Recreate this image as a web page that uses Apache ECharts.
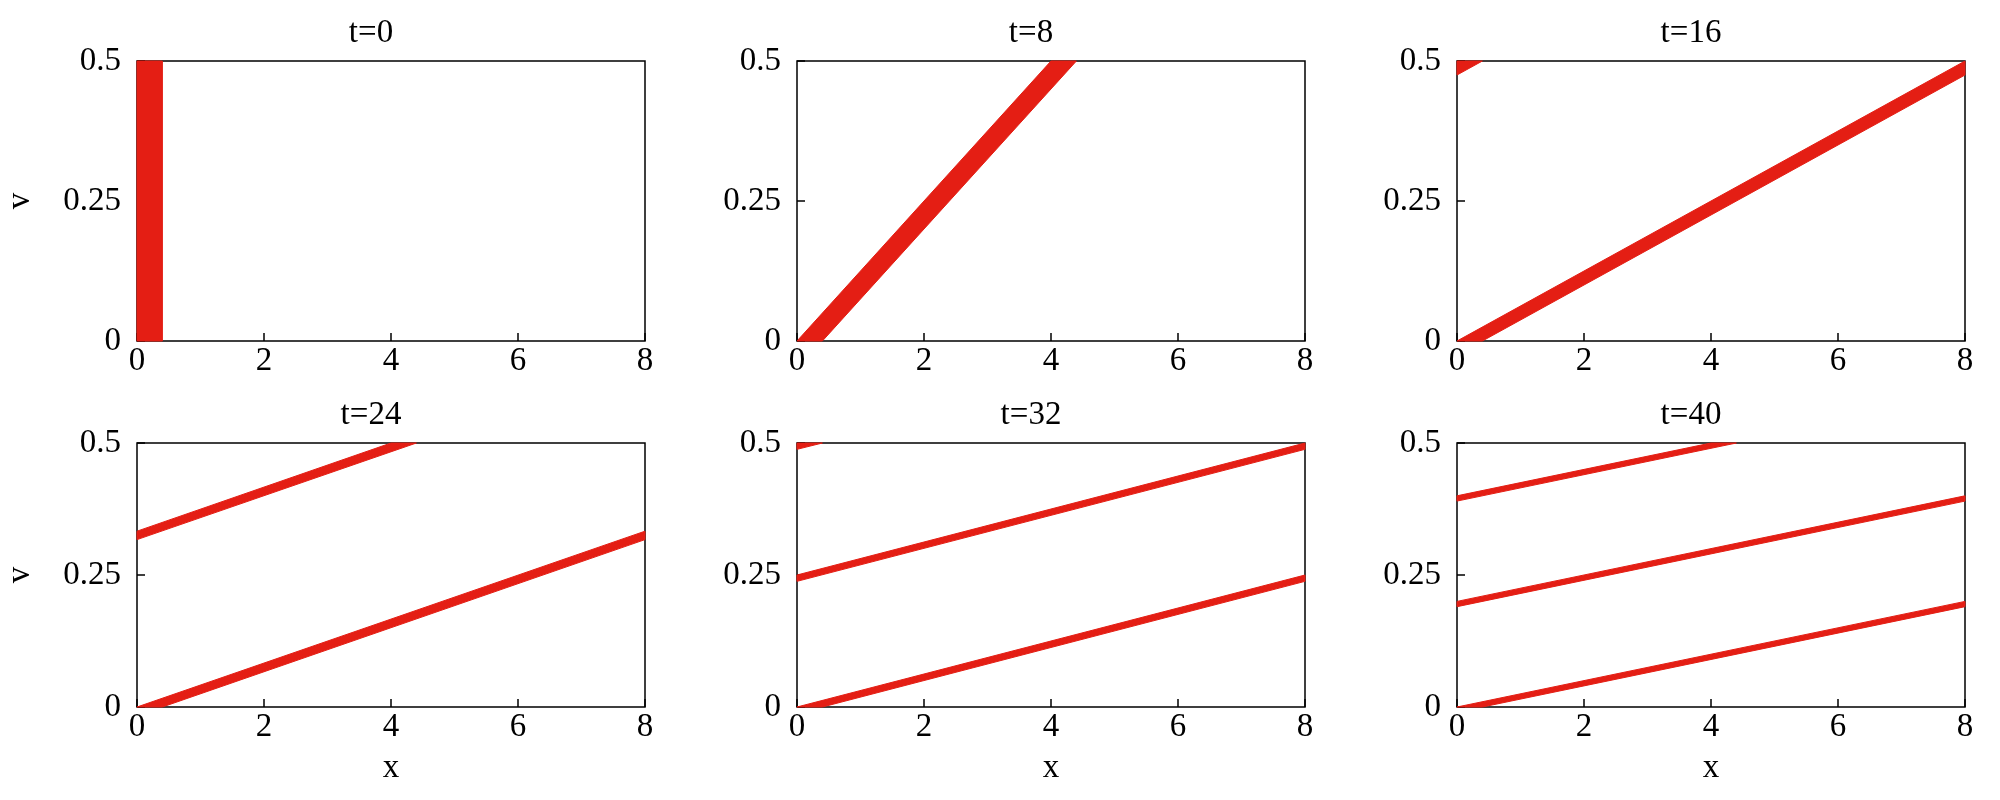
<!DOCTYPE html>
<html>
<head>
<meta charset="utf-8">
<title>phase space strips</title>
<script src="https://cdn.jsdelivr.net/npm/echarts@6/dist/echarts.min.js"></script>
<style>
  html, body { margin: 0; padding: 0; background: #fff; }
  #chart { width: 2000px; height: 800px; }
</style>
</head>
<body>
<div id="chart"></div>
<script>
// panel times
var times = [0, 8, 16, 24, 32, 40]
var xTicks = [0, 2, 4, 6, 8]
var vTicks = [0, 0.25, 0.5]
var vTickLabels = ['0', '0.25', '0.5']

// red pieces per panel, corner points [x, v]
var pieces0 = [
  [[0, 0], [0.4, 0], [0.4, 0.5], [0, 0.5]]
]
var pieces8 = [
  [[0, 0], [0.4, 0], [4.4, 0.5], [4, 0.5]]
]
var pieces16 = [
  [[0, 0], [0.4, 0], [8, 0.475], [8, 0.5]],
  [[0, 0.475], [0.4, 0.5], [0, 0.5]]
]
var pieces24 = [
  [[0, 0], [0.4, 0], [8, 0.317], [8, 0.333]],
  [[0, 0.317], [4.4, 0.5], [4, 0.5], [0, 0.333]]
]
var pieces32 = [
  [[0, 0], [0.4, 0], [8, 0.238], [8, 0.25]],
  [[0, 0.238], [8, 0.488], [8, 0.5], [0, 0.25]],
  [[0, 0.488], [0.4, 0.5], [0, 0.5]]
]
var pieces40 = [
  [[0, 0], [0.4, 0], [8, 0.19], [8, 0.2]],
  [[0, 0.19], [8, 0.39], [8, 0.4], [0, 0.2]],
  [[0, 0.39], [4.4, 0.5], [4, 0.5], [0, 0.4]]
]
var panelPieces = [pieces0, pieces8, pieces16, pieces24, pieces32, pieces40]

var FONT = 'Liberation Serif'
var FS = 33
var RED = '#e41e14'
var colLeft = [137, 797, 1457]
var colWidth = 508
var rowTop = [61, 443]
var rowHeight = [280, 264]

var chart = echarts.init(document.getElementById('chart'))

var grids = [], xAxes = [], yAxes = [], series = [], titles = []
times.forEach(function(t, i) {
  var col = i % 3
  var row = Math.floor(i / 3)
  grids.push({
    left: colLeft[col],
    top: rowTop[row],
    width: colWidth,
    height: rowHeight[row],
    show: true,
    borderColor: '#000',
    borderWidth: 1.5,
    backgroundColor: '#fff'
  })
  titles.push({
    text: 't=' + t,
    left: colLeft[col] + colWidth / 2 - 20,
    top: rowTop[row] - 44,
    textAlign: 'center',
    padding: 0,
    textStyle: { fontFamily: FONT, fontSize: FS, fontWeight: 'normal', color: '#000', lineHeight: 32 }
  })
  xAxes.push({
    gridIndex: i,
    type: 'value',
    min: xTicks[0],
    max: xTicks[xTicks.length - 1],
    interval: 2,
    name: row === 1 ? 'x' : '',
    nameLocation: 'middle',
    nameGap: 45,
    nameTextStyle: { fontFamily: FONT, fontSize: FS, color: '#000' },
    axisLine: { show: false },
    axisTick: { show: true, inside: true, length: 8, lineStyle: { color: '#000', width: 1.5 } },
    axisLabel: { fontFamily: FONT, fontSize: FS, color: '#000', margin: 4 },
    splitLine: { show: false }
  })
  yAxes.push({
    gridIndex: i,
    type: 'value',
    min: vTicks[0],
    max: vTicks[vTicks.length - 1],
    interval: 0.25,
    name: col === 0 ? 'v' : '',
    nameLocation: 'middle',
    nameGap: 100,
    nameTextStyle: { fontFamily: FONT, fontSize: FS, color: '#000' },
    axisLine: { show: false },
    axisTick: { show: true, inside: true, length: 8, lineStyle: { color: '#000', width: 1.5 } },
    axisLabel: {
      fontFamily: FONT,
      fontSize: FS,
      color: '#000',
      margin: 16,
      padding: [0, 0, 12, 0],
      formatter: function(val) {
        var k = vTicks.indexOf(val)
        return k >= 0 ? vTickLabels[k] : ''
      }
    },
    splitLine: { show: false }
  })
  var pieces = panelPieces[i]
  series.push({
    type: 'custom',
    xAxisIndex: i,
    yAxisIndex: i,
    data: pieces.map(function(p) { return [p[0][0], p[0][1]] }),
    renderItem: function(params, api) {
      var pts = pieces[params.dataIndex].map(function(p) { return api.coord(p) })
      return {
        type: 'polygon',
        shape: { points: pts },
        style: { fill: RED, stroke: RED, lineWidth: 1 }
      }
    },
    z: 5,
    silent: true
  })
})

chart.setOption({
  animation: false,
  backgroundColor: '#fff',
  title: titles,
  grid: grids,
  xAxis: xAxes,
  yAxis: yAxes,
  series: series
})
</script>
</body>
</html>
